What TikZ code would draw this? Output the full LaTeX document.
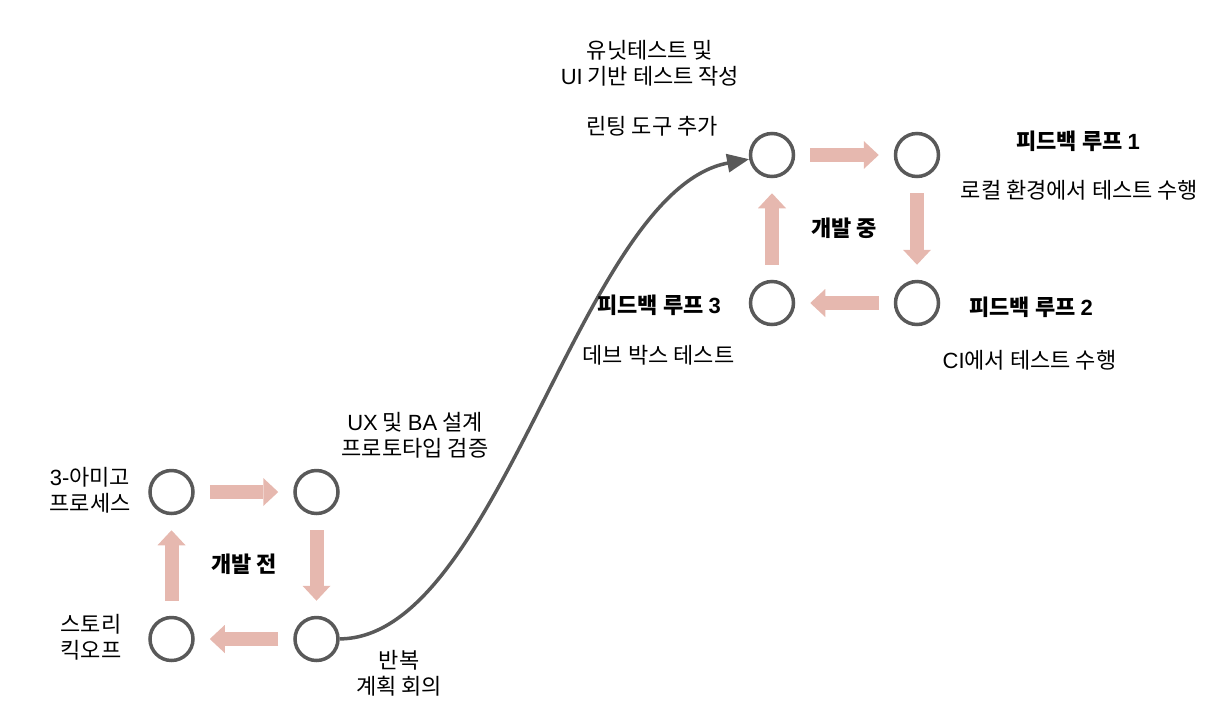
\documentclass[tikz,border=0pt]{standalone}
\usepackage{fontspec}
\setmainfont{Noto Sans CJK KR}
\newfontfamily\latin{Liberation Sans}
\usetikzlibrary{arrows.meta}
\definecolor{ympyra}{HTML}{595959}
\definecolor{nuoli}{HTML}{E6B8AF}

\begin{document}
\begin{tikzpicture}[x=1pt, y=-1pt, >={Triangle[length=22pt,width=18pt]},
  every node/.style={font=\fontsize{22}{26}\selectfont, align=center},
  every stage/.style={circle, draw=ympyra, line width=3.5pt, minimum size=43pt, inner sep=0pt},
  flow/.style={draw=nuoli, line width=14pt, -{Triangle[length=15pt,width=28pt,line width=0pt]}, shorten <=15pt, shorten >=15pt}]

\useasboundingbox (0,0) rectangle (1224,716);

% ympyrat: ennen kehitysta ja kehityksen aikana
\foreach \x/\y [count=\i] in {171.5/492, 316.5/492, 316.5/639, 171.5/639}
  \node [every stage] (pre-\i) at (\x,\y) {};

\foreach \x/\y [count=\i] in {772/155, 917/155, 917/303, 772/303}
  \node [every stage] (dev-\i) at (\x,\y) {};

\foreach \i/\j in {1/2, 2/3, 3/4, 4/1}
  \draw [flow] (pre-\i) -- (pre-\j);

\foreach \i/\j in {1/2, 2/3, 3/4, 4/1}
  \draw [flow] (dev-\i) -- (dev-\j);

\draw [->, draw=ympyra, line width=3.5pt] (pre-3) .. controls (500,638) and (580,190) .. (dev-1);

\node (pre-label) at (244,564) {\bfseries 개발 전};
\node (dev-label) at (844,228) {\bfseries 개발 중};

\node (amigo) at (90,490) {{\latin 3-}아미고\\프로세스};
\node (ux) at (415,435.5) {{\latin UX} 및 {\latin BA} 설계\\프로토타입 검증};
\node (planning) at (399,673) {반복\\계획 회의};
\node (kickoff) at (91,637.5) {스토리\\킥오프};

\node (unit) at (650,63) {유닛테스트 및\\{\latin UI} 기반 테스트 작성};
\node (lint) at (652,126) {린팅 도구 추가};

% palautesilmukat
\foreach \x/\y [count=\n] in {1078/141.7, 1031/307, 659/305}
  \node (loop-\n) at (\x,\y) {\bfseries 피드백 루프 {\latin\n}};

\node (local) at (1079.5,190) {로컬 환경에서 테스트 수행};
\node (ci) at (1029.5,360) {{\latin CI}에서 테스트 수행};
\node (devbox) at (658.5,355) {데브 박스 테스트};

\end{tikzpicture}
\end{document}
